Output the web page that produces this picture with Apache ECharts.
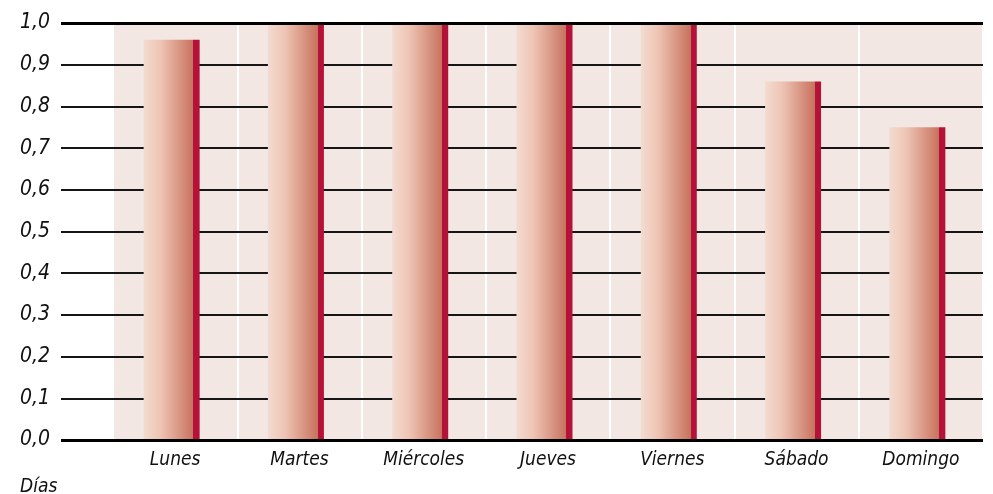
<!DOCTYPE html>
<html lang="es">
<head>
    <meta charset="UTF-8">
    <title>Días</title>
    <style>
        body { margin: 0; background: #fff; }
        #chart { width: 993px; height: 494px; }
    </style>
</head>
<body>
    <div id="chart"></div>
    <script src="https://cdn.jsdelivr.net/npm/echarts@6/dist/echarts.min.js"></script>
    <script>
        // datos
        const dias = ['Lunes', 'Martes', 'Miércoles', 'Jueves', 'Viernes', 'Sábado', 'Domingo'];
        const valores = [0.96, 1.0, 1.0, 1.0, 1.0, 0.86, 0.75];
        const ejeNombre = 'Días';

        const font = '"DejaVu Sans Condensed", "DejaVu Sans", sans-serif';
        const chart = echarts.init(document.getElementById('chart'));

        const barColor = new echarts.graphic.LinearGradient(0, 0, 1, 0, [
            { offset: 0, color: '#f3dbd0' },
            { offset: 0.3, color: '#eec5b5' },
            { offset: 0.89, color: '#c8725d' },
            { offset: 0.89, color: '#b5123a' },
            { offset: 1, color: '#b5123a' }
        ]);

        chart.setOption({
            animation: false,
            title: {
                text: ejeNombre, left: 15, top: 473,
                textStyle: { fontFamily: font, fontStyle: 'italic', fontWeight: 'normal', fontSize: 19, color: '#111' }
            },
            grid: [
                { left: 61, right: 10, top: 23, bottom: 54 },
                { left: 113, right: 10, top: 23, bottom: 54 }
            ],
            xAxis: [
                { gridIndex: 0, type: 'value', show: false },
                {
                    gridIndex: 1, type: 'category', data: dias, z: 0,
                    axisLine: { show: false },
                    axisTick: { show: false },
                    axisLabel: {
                        margin: 11, color: '#111',
                        fontFamily: font, fontStyle: 'italic', fontSize: 19
                    },
                    splitArea: { show: true, areaStyle: { color: ['#f2e7e2', '#f2e7e2'] } },
                    splitLine: { show: true, interval: 0, lineStyle: { color: '#ffffff', width: 2 } }
                }
            ],
            yAxis: [
                {
                    gridIndex: 0, type: 'value', min: 0, max: 1, interval: 0.1, z: 1,
                    axisLine: { show: false },
                    axisTick: { show: false },
                    axisLabel: {
                        margin: 11, color: '#111',
                        fontFamily: font, fontStyle: 'italic', fontSize: 21,
                        formatter: v => v.toFixed(1).replace('.', ',')
                    },
                    splitLine: {
                        lineStyle: {
                            color: '#151515',
                            width: 2
                        }
                    }
                },
                { gridIndex: 1, type: 'value', min: 0, max: 1, show: false }
            ],
            series: [
                {
                    type: 'bar', xAxisIndex: 1, yAxisIndex: 1, z: 3,
                    data: valores, barWidth: 56, barGap: '0%',
                    itemStyle: { color: barColor }
                },
                {
                    type: 'bar', xAxisIndex: 1, yAxisIndex: 1,
                    data: dias.map(() => '-'), barWidth: 7
                },
                {
                    // líneas superior e inferior más gruesas
                    type: 'line', xAxisIndex: 0, yAxisIndex: 0, silent: true,
                    data: [], markLine: {
                        symbol: 'none', silent: true, label: { show: false },
                        lineStyle: { color: '#000', width: 3, type: 'solid' },
                        data: [{ yAxis: 0 }, { yAxis: 1 }]
                    }
                }
            ]
        });
    </script>
</body>
</html>
